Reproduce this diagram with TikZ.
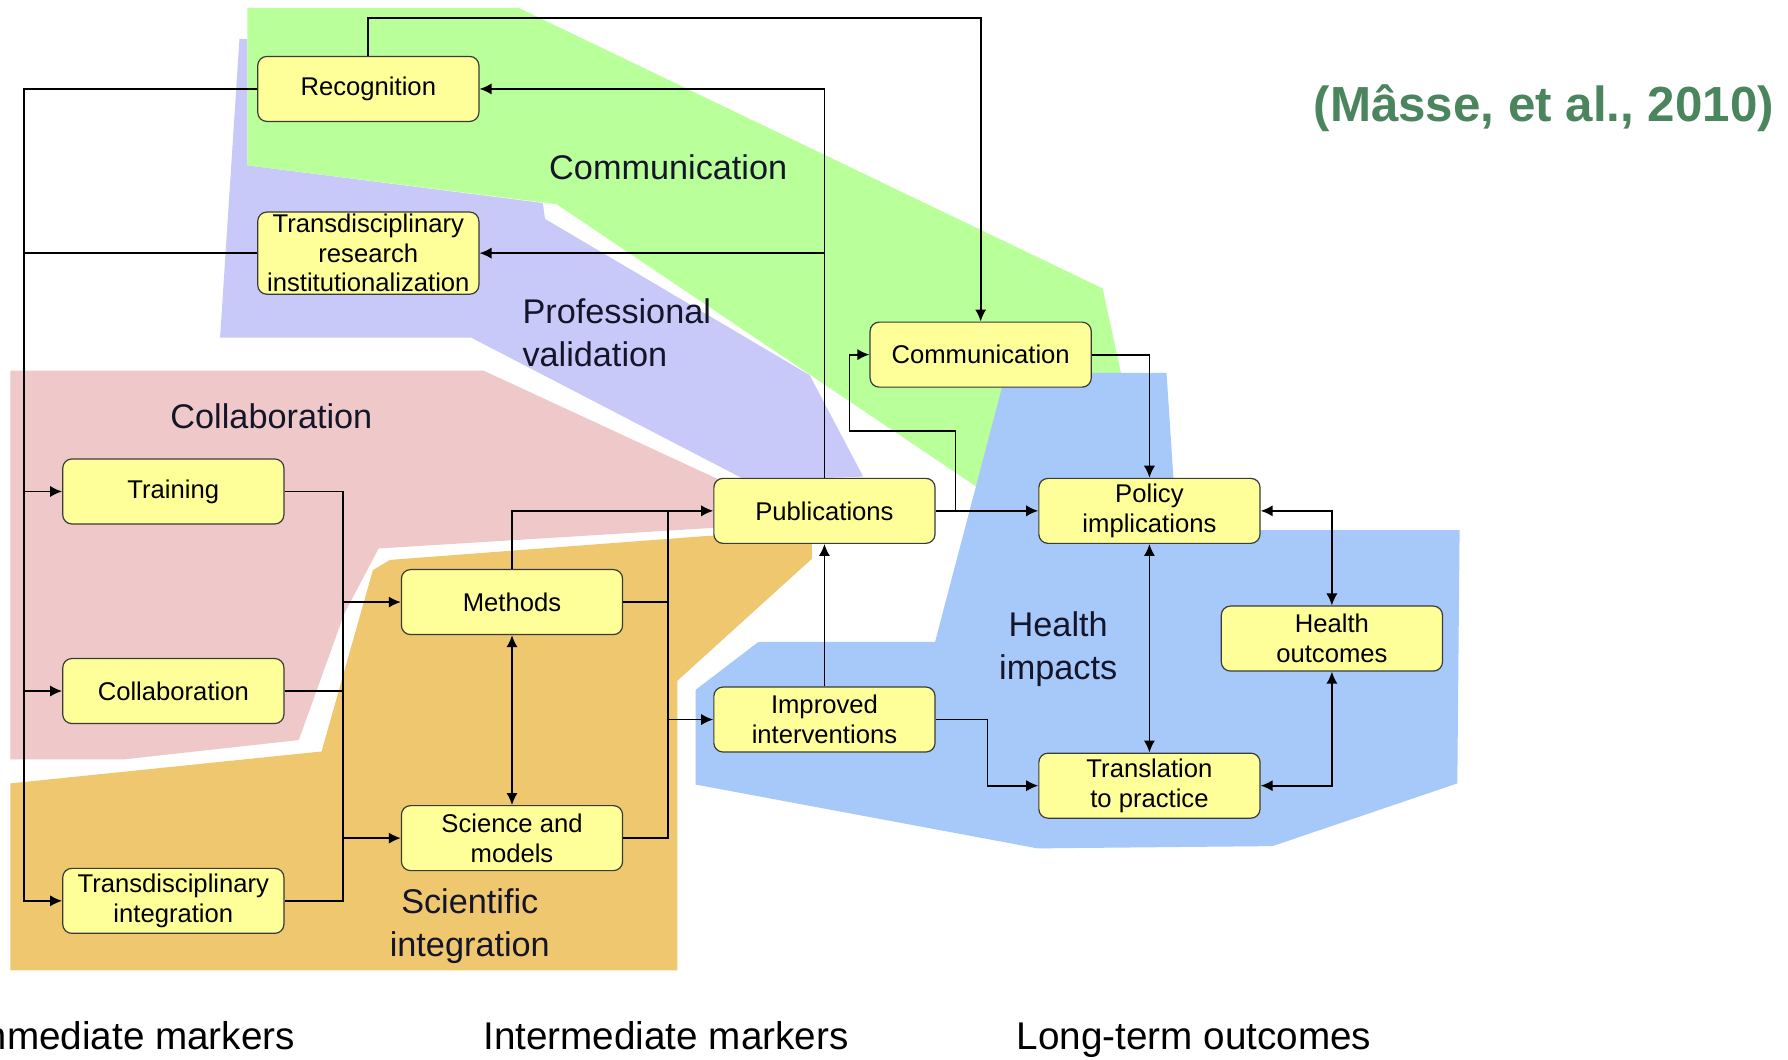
\documentclass[tikz,border=0pt]{standalone}
\usepackage{fontspec}
\setmainfont{Liberation Sans}
\usetikzlibrary{arrows.meta}
\definecolor{gfill}{HTML}{B9FF9A}
\definecolor{pfill}{HTML}{C9C9F9}
\definecolor{kfill}{HTML}{EFC9C9}
\definecolor{ofill}{HTML}{EEC76E}
\definecolor{bfill}{HTML}{A6C9FA}
\definecolor{boxfill}{HTML}{FFFF99}
\definecolor{boxline}{HTML}{3A3A3A}
\definecolor{cite}{HTML}{4A855E}
\definecolor{labtext}{HTML}{15152A}
\tikzset{
  mbox/.style={draw=boxline, line width=0.6pt, fill=boxfill, rounded corners=0.16cm,
    minimum width=3.88cm, minimum height=1.14cm, inner xsep=1pt, inner ysep=1pt,
    align=center, font=\fontsize{12.8}{14.8}\selectfont},
  conn/.style={line width=0.9pt, black},
  arr/.style={conn, -{Latex[length=6pt,width=5.6pt]}},
  arrb/.style={conn, {Latex[length=6pt,width=5.6pt]}-{Latex[length=6pt,width=5.6pt]}},
  region/.style={text=labtext, align=left, font=\fontsize{17.1}{21.4}\selectfont},
  bottomlab/.style={text=black, inner sep=0pt, font=\fontsize{19.3}{22}\selectfont}
}
\begin{document}
\begin{tikzpicture}[x={(0.02cm,0)}, y={(0,-0.02cm)}]
\useasboundingbox (0,0) rectangle (1568,929);
\clip (0,0) rectangle (1568,929);
\fill[white] (0,0) rectangle (1568,929);
% background regions
\fill[pfill] (210,34) -- (217,34) -- (217,145) -- (476,178) -- (478,192) -- (710,329) -- (757,418) -- (654,421) -- (413,296) -- (193,296) -- cycle;
\fill[gfill] (217,7) -- (455,7) -- (967,253) -- (983,327) -- (882,327) -- (858,428) -- (488,179) -- (217,145) -- cycle;
\fill[kfill] (9,325) -- (424,325) -- (640,425) -- (640,462) -- (332,481) -- (302,538) -- (262,649) -- (108,666) -- (9,666) -- cycle;
\fill[ofill] (9,687) -- (282,659) -- (327,500) -- (342,491) -- (620,470) -- (712,470) -- (712,490) -- (594,597) -- (594,851) -- (9,851) -- cycle;
\fill[bfill] (882,327) -- (1023,327) -- (1032,465) -- (1280,465) -- (1278,687) -- (1116,742) -- (910,744) -- (610,688) -- (610,605) -- (665,563) -- (820,563) -- cycle;
% region labels
\node[region] (lcomm) at (586,147) {Communication};
\node[region, anchor=west] (lprof) at (452,292) {Professional\\validation};
\node[region] (lcoll) at (238,365) {Collaboration};
\node[region, align=center] (lsci) at (412,812) {Scientific\\integration};
\node[region, align=center] (lhealth) at (928,569) {Health\\impacts};
% nodes
\node[mbox] (rec) at (323,78) {Recognition};
\node[mbox] (tri) at (323,222) {Transdisciplinary\\research\\institutionalization};
\node[mbox] (comm) at (860,311) {Communication};
\node[mbox] (train) at (152,431) {Training};
\node[mbox] (coll) at (152,606) {Collaboration};
\node[mbox] (ti) at (152,790) {Transdisciplinary\\integration};
\node[mbox] (meth) at (449,528) {Methods};
\node[mbox] (sci) at (449,735) {Science and\\models};
\node[mbox] (pub) at (723,448) {Publications};
\node[mbox] (imp) at (723,631) {Improved\\interventions};
\node[mbox] (pol) at (1008,448) {Policy\\implications};
\node[mbox] (ho) at (1168,560) {Health\\outcomes};
\node[mbox] (trans) at (1008,689) {Translation\\to practice};
% helper coordinates
\coordinate (L0) at (21,78);
\coordinate (T0) at (0,16);
\coordinate (B1) at (301,0);
\coordinate (B2) at (586,0);
\coordinate (B3) at (838,0);
\coordinate (B4) at (745,378);
\coordinate (B5) at (866,0);
% left bus
\draw[arr] (rec.west) -- (L0) |- (ti.west);
\draw[conn] (tri.west) -- (L0 |- tri.west);
\draw[arr] (L0 |- train.west) -- (train.west);
\draw[arr] (L0 |- coll.west) -- (coll.west);
% recognition to communication
\draw[arr] (rec.north) -- (rec.north |- T0) -| (comm.north);
% publications up
\draw[arr] (pub.north) -- (pub.north |- rec.east) -- (rec.east);
\draw[arr] (pub.north |- tri.east) -- (tri.east);
% second bus
\draw[conn] (train.east) -| (B1 |- ti.east) -- (ti.east);
\draw[conn] (coll.east) -- (B1 |- coll.east);
\draw[arr] (B1 |- meth.west) -- (meth.west);
\draw[arr] (B1 |- sci.west) -- (sci.west);
% methods, science
\draw[arr] (meth.north) |- (pub.west);
\draw[conn] (meth.east) -- (B2 |- meth.east);
\draw[conn] (sci.east) -| (B2 |- pub.west);
\draw[arr] (B2 |- imp.west) -- (imp.west);
\draw[arrb] (meth.south) -- (sci.north);
\draw[arr] (imp.north) -- (pub.south);
% right part
\draw[arr] (pub.east) -- (pol.west);
\draw[arr] (B3 |- pub.east) |- (B4) |- (comm.west);
\draw[arr] (comm.east) -| (pol.north);
\draw[arrb] (pol.south) -- (trans.north);
\draw[arrb] (pol.east) -| (ho.north);
\draw[arrb] (trans.east) -| (ho.south);
\draw[arr] (imp.east) -- (B5 |- imp.east) |- (trans.west);
% bottom labels
\node[bottomlab, anchor=base east] (bl1) at (259,920) {Immediate markers};
\node[bottomlab, anchor=base] (bl2) at (584,920) {Intermediate markers};
\node[bottomlab, anchor=base] (bl3) at (1047,920) {Long-term outcomes};
% citation
\node[text=cite, font=\fontsize{24.6}{28}\selectfont\bfseries, inner sep=0pt, anchor=east] (ref) at (1556,95) {(Mâsse, et al., 2010)};
\end{tikzpicture}
\end{document}
